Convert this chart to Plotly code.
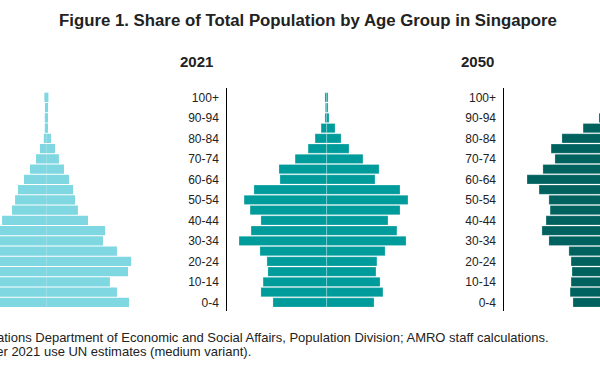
import plotly.graph_objects as go

# ---------------- data ----------------
age_groups = ["0-4", "5-9", "10-14", "15-19", "20-24", "25-29", "30-34", "35-39",
              "40-44", "45-49", "50-54", "55-59", "60-64", "65-69", "70-74",
              "75-79", "80-84", "85-89", "90-94", "95-99", "100+"]
tick_labels = ["0-4", "10-14", "20-24", "30-34", "40-44", "50-54",
               "60-64", "70-74", "80-84", "90-94", "100+"]

# share of total population (%), males / females
early_male = [4.48, 3.81, 3.45, 4.38, 4.43, 3.71, 2.99, 3.09, 2.30, 1.79, 1.63,
              1.48, 1.17, 0.86, 0.55, 0.35, 0.15, 0.10, 0.10, 0.09, 0.12]
early_female = [4.24, 3.62, 3.26, 4.19, 4.35, 3.62, 2.90, 3.01, 2.13, 1.61, 1.46,
                1.36, 1.15, 0.89, 0.63, 0.43, 0.22, 0.05, 0.05, 0.07, 0.09]

y2021_male = [2.77, 3.39, 3.28, 3.03, 3.08, 3.44, 4.52, 3.90, 3.39, 3.95, 4.26,
              3.75, 2.41, 2.46, 1.63, 0.96, 0.60, 0.29, 0.09, 0.07, 0.09]
y2021_female = [2.44, 2.90, 2.75, 2.54, 2.59, 3.01, 4.09, 3.62, 3.16, 3.78, 4.19,
                3.78, 2.49, 2.70, 1.87, 1.15, 0.74, 0.43, 0.12, 0.07, 0.07]

y2050_male = [1.64, 1.79, 1.74, 1.69, 1.74, 1.85, 2.88, 3.24, 3.03, 2.82, 2.88,
              3.39, 4.01, 3.19, 2.57, 2.77, 2.21, 1.12, 0.30, 0.08, 0.02]
y2050_female = [1.55, 1.70, 1.65, 1.60, 1.66, 1.78, 2.75, 3.10, 2.95, 2.80, 2.90,
                3.45, 4.10, 3.40, 2.85, 3.15, 2.70, 1.55, 0.55, 0.18, 0.04]

panel_titles = ["2021", "2050"]
title_text = "Figure 1. Share of Total Population by Age Group in Singapore"
source_text = ("Source: United Nations Department of Economic and Social Affairs, "
               "Population Division; AMRO staff calculations.")
note_text = "Note: Data after 2021 use UN estimates (medium variant)."

# ---------------- layout geometry ----------------
W, H = 600, 366
PX_PER_PCT = 19.4
Y_TOP, Y_BOT = 88, 311
Y_RANGE = [-0.83, 20.91]

colors = ["#7fd7e1", "#009b9b", "#00625e"]
# (domain left px, domain right px, centre px)
panels = [(0, 147, 46.7), (227.3, 427, 326.7), (504.4, 600, 604.8)]
datasets = [(early_male, early_female), (y2021_male, y2021_female),
            (y2050_male, y2050_female)]

fig = go.Figure()
FONT = "Arial, Liberation Sans, sans-serif"

for i, ((male, female), color, (d0, d1, c)) in enumerate(zip(datasets, colors, panels)):
    sfx = "" if i == 0 else str(i + 1)
    lw = 0 if i == 0 else 0.25
    fig.add_trace(go.Bar(y=age_groups, x=[-v for v in male], orientation="h",
                         marker=dict(color=color, line=dict(color="white", width=lw)),
                         xaxis="x" + sfx, yaxis="y" + sfx, name="Male",
                         showlegend=False))
    fig.add_trace(go.Bar(y=age_groups, x=female, orientation="h",
                         marker=dict(color=color, line=dict(color="white", width=lw)),
                         xaxis="x" + sfx, yaxis="y" + sfx, name="Female",
                         showlegend=False))
    xr = [(d0 - c) / PX_PER_PCT, (d1 - c) / PX_PER_PCT]
    xa = dict(domain=[d0 / W, d1 / W], range=xr, visible=False, anchor="y" + sfx,
              fixedrange=True)
    ya = dict(domain=[1 - Y_BOT / H, 1 - Y_TOP / H], range=Y_RANGE, type="category",
              categoryorder="array", categoryarray=age_groups,
              anchor="x" + sfx, showgrid=False, zeroline=False, fixedrange=True)
    if i == 0:
        ya.update(visible=False)
    else:
        ya.update(showline=True, linecolor="#000000", linewidth=1, ticks="",
                  tickmode="array", tickvals=tick_labels, ticktext=tick_labels,
                  tickfont=dict(family=FONT, size=12, color="#222222"),
                  ticklabelstandoff=5)
    fig.layout["xaxis" + sfx] = xa
    fig.layout["yaxis" + sfx] = ya

annotations = [
    dict(text="<b>" + title_text + "</b>", x=308 / W, y=1 - 21 / H, xref="paper",
         yref="paper", showarrow=False, xanchor="center", yanchor="middle",
         font=dict(family=FONT, size=16.8, color="#222222")),
    dict(text="<b>" + panel_titles[0] + "</b>", x=196 / W, y=1 - 62 / H, xref="paper",
         yref="paper", showarrow=False, xanchor="center", yanchor="middle",
         font=dict(family=FONT, size=15, color="#222222")),
    dict(text="<b>" + panel_titles[1] + "</b>", x=477 / W, y=1 - 62 / H, xref="paper",
         yref="paper", showarrow=False, xanchor="center", yanchor="middle",
         font=dict(family=FONT, size=15, color="#222222")),
    dict(text=source_text, x=551 / W, y=1 - 337 / H, xref="paper", yref="paper",
         showarrow=False, xanchor="right", yanchor="middle",
         font=dict(family=FONT, size=13, color="#222222")),
    dict(text=note_text, x=253 / W, y=1 - 351 / H, xref="paper", yref="paper",
         showarrow=False, xanchor="right", yanchor="middle",
         font=dict(family=FONT, size=13, color="#222222")),
]

fig.update_layout(width=W, height=H, autosize=False,
                  margin=dict(l=0, r=0, t=0, b=0),
                  paper_bgcolor="white", plot_bgcolor="white",
                  barmode="relative", bargap=0.1, showlegend=False,
                  annotations=annotations)

fig.write_html("out.html", config={"displayModeBar": False},
               post_script="document.body.style.margin='0';"
                           "document.body.style.padding='0';")
